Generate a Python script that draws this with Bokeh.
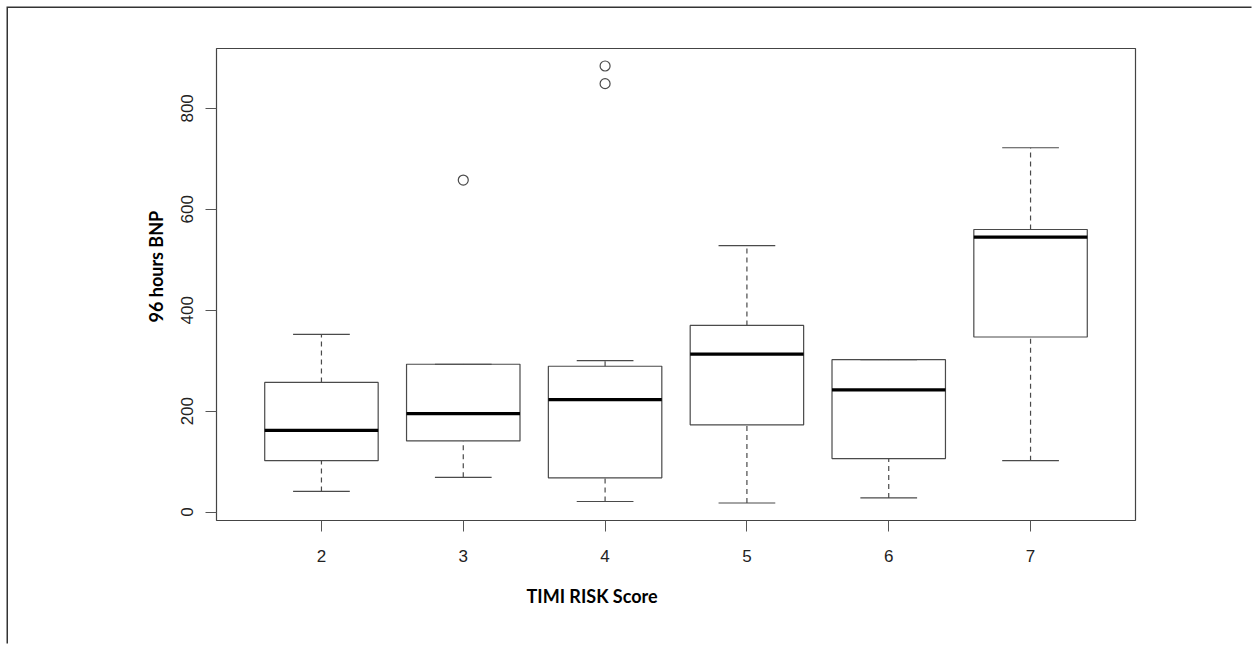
from bokeh.plotting import figure
from bokeh.models import Range1d, FixedTicker, Title, ColumnDataSource
from bokeh.embed import file_html
from bokeh.resources import INLINE

# ---- data ----
scores = [2, 3, 4, 5, 6, 7]
lower_whisker = [41, 69, 21, 18, 28, 102]
q1 = [102, 141, 68, 173, 106, 347]
median = [162, 195, 223, 313, 242, 545]
q3 = [257, 293, 289, 370, 302, 560]
upper_whisker = [352, 293, 300, 528, 302, 722]
outlier_x = [3, 4, 4]
outlier_y = [658, 884, 849]
y_ticks = [0, 200, 400, 600, 800]
x_label = "TIMI RISK Score"
y_label = "96 hours BNP"

lo = min(lower_whisker + outlier_y)
hi = max(upper_whisker + outlier_y)
pad = 0.04 * (hi - lo)
n = len(scores)
xpad = 0.04 * n

OFF = 8                      # page offset of the outer frame
W, H = 1253 - OFF, 645 - OFF
FL, FR, FT, FB = 216 - OFF, 118, 48 - OFF, 125
p = figure(width=W, height=H, output_backend="svg", toolbar_location=None,
           x_range=Range1d(scores[0] - 0.5 - xpad, scores[-1] + 0.5 + xpad),
           y_range=Range1d(lo - pad, hi + pad),
           min_border_left=FL, min_border_right=FR, min_border_top=FT, min_border_bottom=FB,
           styles={"margin-left": f"{OFF}px", "margin-top": f"{OFF}px",
                   "box-shadow": "-1.5px -1.5px 0 0 #333333"})
p.grid.visible = False
p.outline_line_color = "#444444"
p.outline_line_width = 1.2
p.background_fill_color = "white"
p.border_fill_color = "white"

for ax in (p.xaxis, p.yaxis):
    ax.axis_line_color = None
    ax.major_tick_line_color = "#555555"
    ax.major_tick_out = 11
    ax.major_tick_in = 0
    ax.minor_tick_line_color = None
    ax.major_label_text_font = "Liberation Sans"
    ax.major_label_text_font_size = "17px"
    ax.major_label_text_color = "#222222"
p.xaxis.ticker = FixedTicker(ticks=scores)
p.yaxis.ticker = FixedTicker(ticks=y_ticks)
p.yaxis.major_label_orientation = "vertical"
p.xaxis.major_label_standoff = 18
p.yaxis.major_label_standoff = 12

src = ColumnDataSource(dict(x=scores, lw=lower_whisker, q1=q1, med=median, q3=q3, uw=upper_whisker,
                            x0=[s - 0.4 for s in scores], x1=[s + 0.4 for s in scores],
                            c0=[s - 0.2 for s in scores], c1=[s + 0.2 for s in scores]))
box_col = "#4a4a4a"
# whiskers (dashed)
p.segment(x0="x", y0="q3", x1="x", y1="uw", source=src, line_color=box_col, line_width=1.2, line_dash="5 4")
p.segment(x0="x", y0="lw", x1="x", y1="q1", source=src, line_color=box_col, line_width=1.2, line_dash="5 4")
# caps
p.segment(x0="c0", y0="uw", x1="c1", y1="uw", source=src, line_color=box_col, line_width=1.2)
p.segment(x0="c0", y0="lw", x1="c1", y1="lw", source=src, line_color=box_col, line_width=1.2)
# boxes
p.quad(left="x0", right="x1", bottom="q1", top="q3", source=src, fill_color=None,
       line_color=box_col, line_width=1.2)
# medians
p.segment(x0="x0", y0="med", x1="x1", y1="med", source=src, line_color="black", line_width=3.2)
# outliers
p.scatter(outlier_x, outlier_y, marker="circle", size=10, fill_color=None, line_color=box_col, line_width=1.2)

# axis titles as panel titles
p.add_layout(Title(text=x_label, align="left", offset=310, standoff=37,
                   text_font="Lato", text_font_style="bold", text_font_size="18px",
                   text_color="black"), "below")
p.add_layout(Title(text=y_label, align="left", offset=198, standoff=23,
                   text_font="Lato", text_font_style="bold", text_font_size="18px",
                   text_color="black"), "left")

open("out.html", "w").write(file_html(p, INLINE))
